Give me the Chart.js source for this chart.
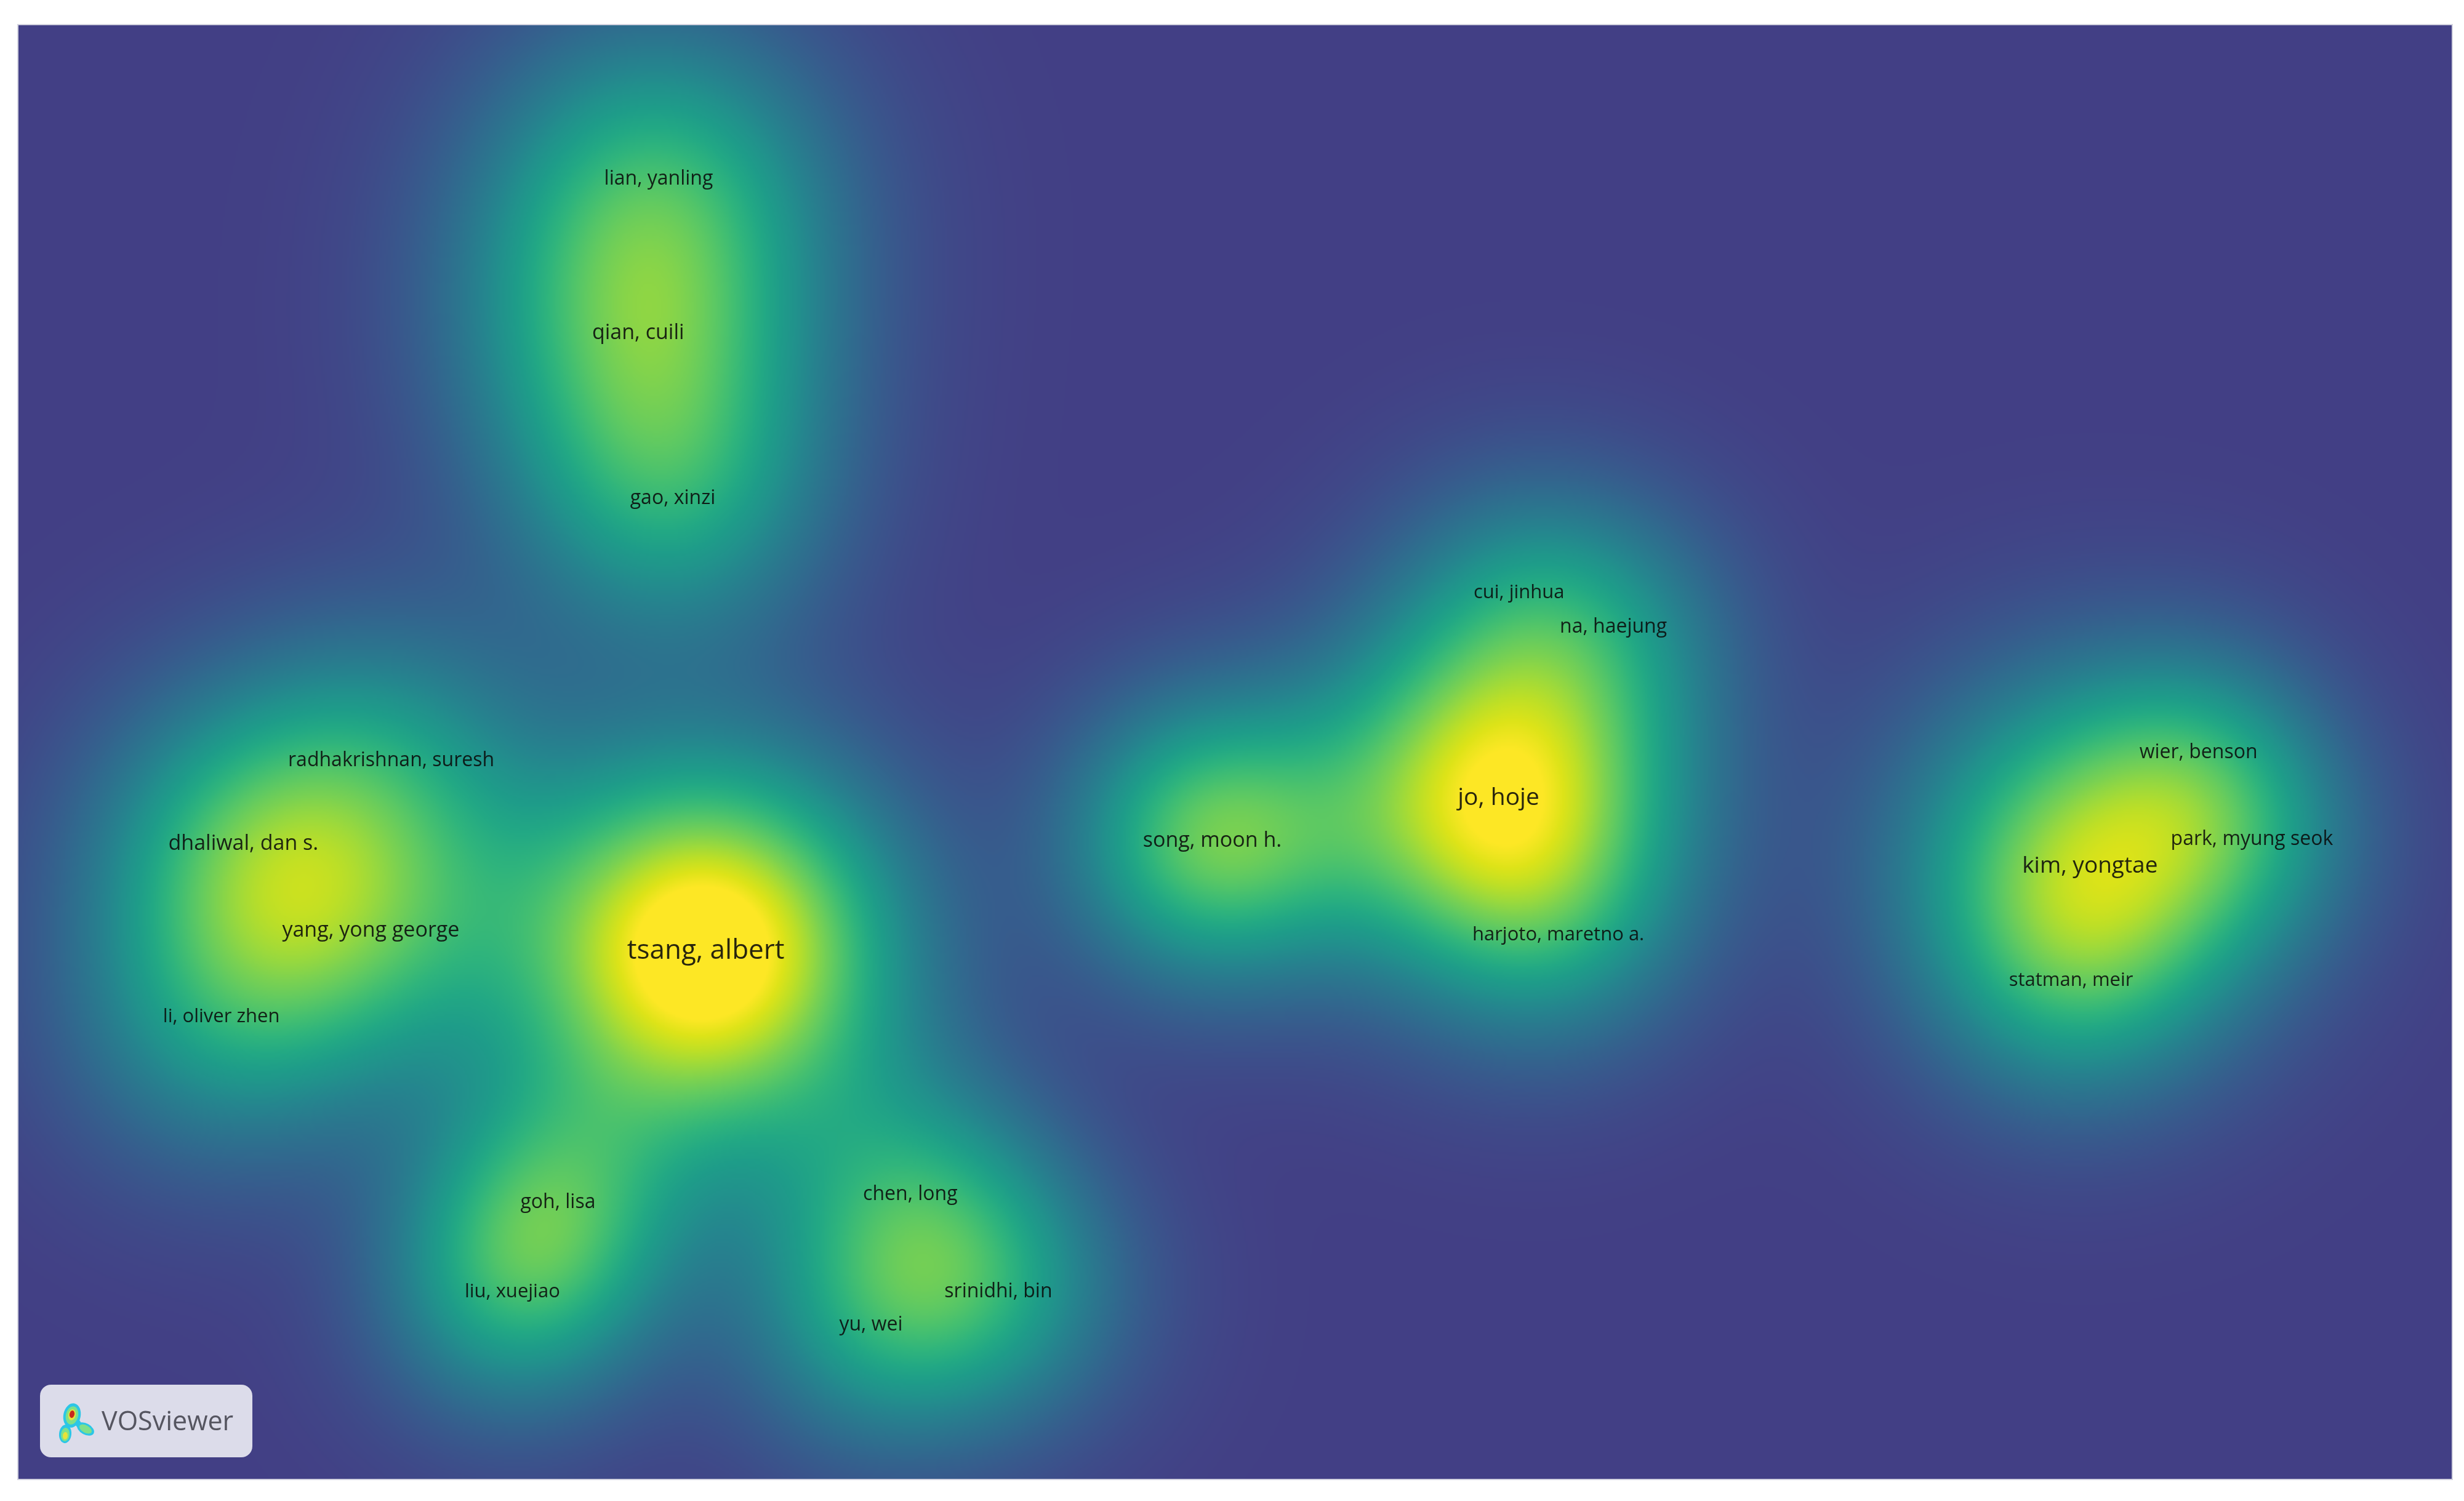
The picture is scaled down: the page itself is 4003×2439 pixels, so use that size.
<!DOCTYPE html>
<html>
<head>
<meta charset="utf-8">
<script src="https://cdn.jsdelivr.net/npm/chart.js@4.4.1/dist/chart.umd.min.js"></script>
<style>
html, body { margin: 0; padding: 0; background: #ffffff; }
</style>
</head>
<body>
<canvas id="densityMap" width="4003" height="2439"></canvas>
<script>
// co-authorship items (map coordinates, y grows downwards)
var authors = ["tsang, albert", "jo, hoje", "kim, yongtae", "song, moon h.", "qian, cuili",
	"lian, yanling", "gao, xinzi", "dhaliwal, dan s.", "yang, yong george", "radhakrishnan, suresh",
	"li, oliver zhen", "cui, jinhua", "na, haejung", "harjoto, maretno a.", "wier, benson",
	"park, myung seok", "statman, meir", "chen, long", "goh, lisa", "liu, xuejiao",
	"srinidhi, bin", "yu, wei"];
var xPos = [450, 954, 1330, 772, 407, 420, 429, 156, 237, 250, 142, 967, 1027, 992, 1399, 1433, 1318, 580, 356, 327, 636, 555];
var yPos = [605, 508, 551, 535, 212, 114, 317, 537, 592, 484, 647, 377, 399, 595, 479, 534, 624, 760, 765, 822, 822, 843];
// density of each item: kernel height and kernel spread (map units)
var densityWeight = [1.12, 0.95, 0.76, 0.68, 0.48, 0.42, 0.38, 0.45, 0.38, 0.30, 0.35, 0.20, 0.20, 0.18, 0.20, 0.20, 0.20, 0.33, 0.40, 0.40, 0.33, 0.33];
var densitySpread = [82, 78, 80, 62, 80, 78, 70, 70, 70, 70, 70, 60, 60, 60, 55, 55, 60, 62, 60, 60, 62, 62];
// relative label weight
var labelWeight = [1.00, 0.88, 0.84, 0.78, 0.78, 0.72, 0.72, 0.77, 0.77, 0.72, 0.71, 0.71, 0.72, 0.70, 0.72, 0.72, 0.71, 0.72, 0.72, 0.71, 0.72, 0.72];

var mapXMin = 13, mapXMax = 1560, mapYMin = 16, mapYMax = 941;

var viridisStops = [
	[0.15, 0x46, 0x33, 0x7f], [0.20, 0x41, 0x44, 0x87], [0.25, 0x3b, 0x52, 0x8b], [0.30, 0x35, 0x5f, 0x8d],
	[0.35, 0x2f, 0x6c, 0x8e], [0.40, 0x2a, 0x78, 0x8e], [0.45, 0x25, 0x84, 0x8e], [0.50, 0x21, 0x91, 0x8c],
	[0.55, 0x1e, 0x9c, 0x89], [0.60, 0x22, 0xa8, 0x84], [0.65, 0x2f, 0xb4, 0x7c], [0.70, 0x44, 0xbf, 0x70],
	[0.75, 0x5e, 0xc9, 0x62], [0.80, 0x7a, 0xd1, 0x51], [0.85, 0x9b, 0xd9, 0x3c], [0.90, 0xbd, 0xdf, 0x26],
	[0.95, 0xdd, 0xe3, 0x18], [1.00, 0xfd, 0xe7, 0x25]
];
var bgLevel = 0.185;

function viridis(t) {
	if (t <= viridisStops[0][0]) return viridisStops[0].slice(1);
	for (var i = 1; i < viridisStops.length; i++) {
		var b = viridisStops[i];
		if (t <= b[0]) {
			var a = viridisStops[i - 1];
			var f = (t - a[0]) / (b[0] - a[0]);
			return [a[1] + (b[1] - a[1]) * f, a[2] + (b[2] - a[2]) * f, a[3] + (b[3] - a[3]) * f];
		}
	}
	return viridisStops[viridisStops.length - 1].slice(1);
}

var densityPlugin = {
	id: 'densityLayer',
	beforeDatasetsDraw: function(chart) {
		var ctx = chart.ctx;
		var area = chart.chartArea;
		var sx = chart.scales.x, sy = chart.scales.y;
		var step = 3;
		var w = Math.ceil((area.right - area.left) / step);
		var h = Math.ceil((area.bottom - area.top) / step);
		var off = document.createElement('canvas');
		off.width = w;
		off.height = h;
		var octx = off.getContext('2d');
		var img = octx.createImageData(w, h);
		var n = authors.length;
		var inv = [];
		for (var k = 0; k < n; k++) inv.push(1 / (2 * densitySpread[k] * densitySpread[k]));
		for (var j = 0; j < h; j++) {
			var my = sy.getValueForPixel(area.top + (j + 0.5) * step);
			for (var i = 0; i < w; i++) {
				var mx = sx.getValueForPixel(area.left + (i + 0.5) * step);
				var d = 0;
				for (k = 0; k < n; k++) {
					var dx = mx - xPos[k], dy = my - yPos[k];
					d += densityWeight[k] * Math.exp(-(dx * dx + dy * dy) * inv[k]);
				}
				var g = Math.max(0, Math.min(1, d));
				var c = viridis(bgLevel + (1 - bgLevel) * g);
				var p = (j * w + i) * 4;
				img.data[p] = c[0];
				img.data[p + 1] = c[1];
				img.data[p + 2] = c[2];
				img.data[p + 3] = 255;
			}
		}
		octx.putImageData(img, 0, 0);
		ctx.save();
		ctx.imageSmoothingEnabled = true;
		ctx.imageSmoothingQuality = 'high';
		ctx.drawImage(off, area.left, area.top, area.right - area.left, area.bottom - area.top);
		ctx.strokeStyle = 'rgba(205,205,220,0.9)';
		ctx.lineWidth = 2;
		ctx.strokeRect(area.left - 1, area.top - 1, area.right - area.left + 2, area.bottom - area.top + 2);
		ctx.restore();
	}
};

var labelPlugin = {
	id: 'itemLabels',
	afterDatasetsDraw: function(chart) {
		var ctx = chart.ctx;
		var sx = chart.scales.x, sy = chart.scales.y;
		ctx.save();
		ctx.textAlign = 'center';
		ctx.textBaseline = 'middle';
		ctx.fillStyle = 'rgba(10,10,10,0.88)';
		for (var k = 0; k < authors.length; k++) {
			ctx.font = Math.round(44 * labelWeight[k]) + 'px "Open Sans"';
			ctx.fillText(authors[k], sx.getPixelForValue(xPos[k]), sy.getPixelForValue(yPos[k]));
		}
		ctx.restore();
	}
};

function blob(ctx, x, y, rx, ry, rot) {
	ctx.beginPath();
	ctx.ellipse(x, y, rx, ry, rot, 0, Math.PI * 2);
	ctx.fill();
}

var badgePlugin = {
	id: 'vosBadge',
	afterDraw: function(chart) {
		var ctx = chart.ctx;
		var x = 65, y = 2250, w = 345, h = 118, r = 18;
		ctx.save();
		ctx.fillStyle = '#dcdcea';
		ctx.beginPath();
		ctx.moveTo(x + r, y);
		ctx.arcTo(x + w, y, x + w, y + h, r);
		ctx.arcTo(x + w, y + h, x, y + h, r);
		ctx.arcTo(x, y + h, x, y, r);
		ctx.arcTo(x, y, x + w, y, r);
		ctx.closePath();
		ctx.fill();
		// little density logo
		ctx.fillStyle = '#2cc6e6';
		blob(ctx, 117, 2300, 14, 20, 0.2);
		blob(ctx, 106, 2330, 10, 15, 0.1);
		blob(ctx, 139, 2322, 15, 9, 0.5);
		blob(ctx, 126, 2312, 5, 12, -0.6);
		ctx.fillStyle = '#7fe08a';
		blob(ctx, 117, 2300, 10, 15, 0.2);
		blob(ctx, 106, 2331, 7, 11, 0.1);
		blob(ctx, 139, 2322, 11, 6, 0.5);
		ctx.fillStyle = '#e8e23a';
		blob(ctx, 117, 2299, 6, 9, 0.2);
		blob(ctx, 106, 2333, 4, 6, 0.1);
		ctx.fillStyle = '#c8281e';
		blob(ctx, 117, 2298, 4, 6, 0.2);
		ctx.fillStyle = '#555560';
		ctx.font = '43px "Open Sans"';
		ctx.textAlign = 'left';
		ctx.textBaseline = 'alphabetic';
		ctx.fillText('VOSviewer', 165, 2324);
		ctx.restore();
	}
};

var points = [];
for (var i = 0; i < authors.length; i++) {
	points.push({ x: xPos[i], y: yPos[i] });
}

new Chart(document.getElementById('densityMap'), {
	type: 'scatter',
	data: {
		datasets: [{
			label: 'authors',
			data: points,
			pointRadius: 0,
			pointHoverRadius: 0
		}]
	},
	options: {
		responsive: false,
		animation: false,
		devicePixelRatio: 1,
		layout: { padding: { left: 30, top: 41, right: 20, bottom: 36 } },
		scales: {
			x: { type: 'linear', min: mapXMin, max: mapXMax, display: false },
			y: { type: 'linear', min: mapYMin, max: mapYMax, reverse: true, display: false }
		},
		plugins: {
			legend: { display: false },
			tooltip: { enabled: false }
		}
	},
	plugins: [densityPlugin, labelPlugin, badgePlugin]
});
</script>
</body>
</html>
